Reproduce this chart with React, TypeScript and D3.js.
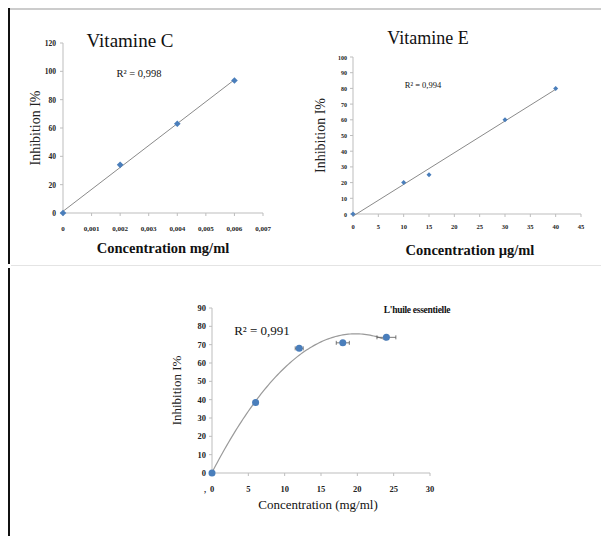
import React from "react";
import * as d3 from "d3";

// Vitamine C
const vcConc = [0, 0.002, 0.004, 0.006];
const vcInhib = [0, 34, 63, 93.5];
const vcXTicks = [0, 0.001, 0.002, 0.003, 0.004, 0.005, 0.006, 0.007];
const vcYTicks = [0, 20, 40, 60, 80, 100, 120];

// Vitamine E
const veConc = [0, 10, 15, 30, 40];
const veInhib = [0, 20, 25, 60, 80];
const veXTicks = [0, 5, 10, 15, 20, 25, 30, 35, 40, 45];
const veYTicks = [0, 10, 20, 30, 40, 50, 60, 70, 80, 90, 100];

// L'huile essentielle
const heConc = [0, 6, 12, 18, 24];
const heInhib = [0, 38.5, 68, 71, 74];
const heErr = [0, 0.3, 0.55, 0.9, 1.3];
const heXTicks = [0, 5, 10, 15, 20, 25, 30];
const heYTicks = [0, 10, 20, 30, 40, 50, 60, 70, 80, 90];

const BLUE = "#4a7ebb";
const AXIS = "#bdbdbd";
const SERIF = "'Liberation Serif', 'Times New Roman', serif";

function linFit(xs: number[], ys: number[]) {
  const mx = d3.mean(xs)!;
  const my = d3.mean(ys)!;
  const sxy = d3.sum(xs, (x, i) => (x - mx) * (ys[i] - my));
  const sxx = d3.sum(xs, (x) => (x - mx) ** 2);
  const b = sxy / sxx;
  return { a: my - b * mx, b };
}

// least squares quadratic (normal equations, Cramer's rule)
function quadFit(xs: number[], ys: number[]) {
  const s = (p: number) => d3.sum(xs, (x) => x ** p);
  const t = (p: number) => d3.sum(xs, (x, i) => x ** p * ys[i]);
  const M = [
    [xs.length, s(1), s(2)],
    [s(1), s(2), s(3)],
    [s(2), s(3), s(4)],
  ];
  const r = [t(0), t(1), t(2)];
  const det = (m: number[][]) =>
    m[0][0] * (m[1][1] * m[2][2] - m[1][2] * m[2][1]) -
    m[0][1] * (m[1][0] * m[2][2] - m[1][2] * m[2][0]) +
    m[0][2] * (m[1][0] * m[2][1] - m[1][1] * m[2][0]);
  const D = det(M);
  const col = (k: number) => M.map((row, i) => row.map((v, j) => (j === k ? r[i] : v)));
  return [det(col(0)) / D, det(col(1)) / D, det(col(2)) / D];
}

const fmtComma = (v: number) => String(v).replace(".", ",");

export default function App() {
  // ---- Vitamine C scales
  const cx = d3.scaleLinear().domain([0, 0.007]).range([63, 263]);
  const cy = d3.scaleLinear().domain([0, 120]).range([213, 43]);
  const cFit = linFit(vcConc, vcInhib);
  const cLine = d3.line<number>().x((x) => cx(x)).y((x) => cy(cFit.a + cFit.b * x));

  // ---- Vitamine E scales
  const ex = d3.scaleLinear().domain([0, 45]).range([353, 581]);
  const ey = d3.scaleLinear().domain([0, 100]).range([214, 57]);
  const eFit = linFit(veConc, veInhib);
  const eLine = d3.line<number>().x((x) => ex(x)).y((x) => ey(eFit.a + eFit.b * x));

  // ---- Huile essentielle
  const hx = d3.scaleLinear().domain([0, 30]).range([212, 430]);
  const hy = d3.scaleLinear().domain([0, 90]).range([473, 308]);
  const q = quadFit(heConc, heInhib);
  const curvePts = d3.range(0, 24.01, 0.25);
  const hLine = d3
    .line<number>()
    .x((x) => hx(x))
    .y((x) => hy(q[0] + q[1] * x + q[2] * x * x));

  const diamond = d3.symbol().type((d3 as any).symbolDiamond2 || d3.symbolDiamond);

  return (
    <svg
      width={601}
      height={536}
      style={{ position: "absolute", left: 0, top: 0, background: "#fff" }}
      fontFamily={SERIF}
    >
      {/* frame */}
      <line x1={9} y1={9} x2={601} y2={9} stroke="#999" strokeWidth={1} />
      <line x1={9} y1={8} x2={9} y2={264} stroke="#111" strokeWidth={2} />
      <line x1={9} y1={268} x2={9} y2={536} stroke="#111" strokeWidth={2} />
      <line x1={11} y1={265.5} x2={601} y2={265.5} stroke="#e4e4e4" strokeWidth={1} />

      {/* ===== Vitamine C ===== */}
      <g>
        <line x1={cx(0)} x2={cx(0)} y1={cy(0)} y2={cy(120)} stroke={AXIS} />
        <line x1={cx(0)} x2={cx(0.007)} y1={cy(0)} y2={cy(0)} stroke={AXIS} />
        {vcYTicks.map((t) => (
          <g key={t}>
            <line x1={cx(0) - 3} x2={cx(0)} y1={cy(t)} y2={cy(t)} stroke={AXIS} />
            <text x={cx(0) - 7} y={cy(t) + 3} fontSize={7.5} fontWeight="bold" textAnchor="end" fill="#222">
              {t}
            </text>
          </g>
        ))}
        {vcXTicks.map((t) => (
          <g key={t}>
            <line x1={cx(t)} x2={cx(t)} y1={cy(0)} y2={cy(0) + 3} stroke={AXIS} />
            <text x={cx(t)} y={cy(0) + 18} fontSize={7} fontWeight="bold" textAnchor="middle" fill="#222">
              {fmtComma(t)}
            </text>
          </g>
        ))}
        <path d={cLine([0, 0.006]) || ""} stroke="#8a8a8a" strokeWidth={1} fill="none" />
        {vcConc.map((x, i) => (
          <path
            key={i}
            d={diamond.size(28)() || ""}
            transform={`translate(${cx(x)},${cy(vcInhib[i])})`}
            fill={BLUE}
          />
        ))}
        <text x={130} y={47} fontSize={19} textAnchor="middle" fill="#111">
          Vitamine C
        </text>
        <text x={139} y={77} fontSize={10.5} textAnchor="middle" fill="#111">
          R² = 0,998
        </text>
        <text
          transform={`translate(40,${(cy(0) + cy(120)) / 2}) rotate(-90)`}
          fontSize={14}
          textAnchor="middle"
          fill="#222"
        >
          Inhibition I%
        </text>
        <text x={cx(0.0035)} y={253} fontSize={14.5} fontWeight="bold" textAnchor="middle" fill="#111">
          Concentration mg/ml
        </text>
      </g>

      {/* ===== Vitamine E ===== */}
      <g>
        <line x1={ex(0)} x2={ex(0)} y1={ey(0)} y2={ey(100)} stroke={AXIS} />
        <line x1={ex(0)} x2={ex(45)} y1={ey(0)} y2={ey(0)} stroke={AXIS} />
        {veYTicks.map((t) => (
          <g key={t}>
            <line x1={ex(0) - 3} x2={ex(0)} y1={ey(t)} y2={ey(t)} stroke={AXIS} />
            <text x={ex(0) - 6} y={ey(t) + 2.5} fontSize={6} fontWeight="bold" textAnchor="end" fill="#222">
              {t}
            </text>
          </g>
        ))}
        {veXTicks.map((t) => (
          <g key={t}>
            <line x1={ex(t)} x2={ex(t)} y1={ey(0)} y2={ey(0) + 3} stroke={AXIS} />
            <text x={ex(t)} y={ey(0) + 15} fontSize={6.5} fontWeight="bold" textAnchor="middle" fill="#222">
              {t}
            </text>
          </g>
        ))}
        <path d={eLine([0, 40]) || ""} stroke="#8a8a8a" strokeWidth={1} fill="none" />
        {veConc.map((x, i) => (
          <path
            key={i}
            d={diamond.size(16)() || ""}
            transform={`translate(${ex(x)},${ey(veInhib[i])})`}
            fill={BLUE}
          />
        ))}
        <text x={428} y={44} fontSize={18} textAnchor="middle" fill="#111">
          Vitamine E
        </text>
        <text x={423} y={88} fontSize={8.5} textAnchor="middle" fill="#111">
          R² = 0,994
        </text>
        <text
          transform={`translate(325,${(ey(0) + ey(100)) / 2}) rotate(-90)`}
          fontSize={14}
          textAnchor="middle"
          fill="#222"
        >
          Inhibition I%
        </text>
        <text x={470} y={255} fontSize={14.5} fontWeight="bold" textAnchor="middle" fill="#111">
          Concentration µg/ml
        </text>
      </g>

      {/* ===== L'huile essentielle ===== */}
      <g>
        <line x1={hx(0)} x2={hx(0)} y1={hy(0)} y2={hy(90)} stroke={AXIS} />
        <line x1={hx(0)} x2={hx(30)} y1={hy(0)} y2={hy(0)} stroke={AXIS} />
        {heYTicks.map((t) => (
          <g key={t}>
            <line x1={hx(0) - 3} x2={hx(0)} y1={hy(t)} y2={hy(t)} stroke={AXIS} />
            <text x={hx(0) - 6} y={hy(t) + 3} fontSize={8.5} fontWeight="bold" textAnchor="end" fill="#222">
              {t}
            </text>
          </g>
        ))}
        {heXTicks.map((t) => (
          <g key={t}>
            <line x1={hx(t)} x2={hx(t)} y1={hy(0)} y2={hy(0) + 3} stroke={AXIS} />
            <text x={hx(t)} y={hy(0) + 19} fontSize={8.5} fontWeight="bold" textAnchor="middle" fill="#222">
              {t}
            </text>
          </g>
        ))}
        <text x={hx(0) - 7} y={hy(0) + 19} fontSize={8.5} fontWeight="bold" textAnchor="middle" fill="#222">
          ,
        </text>
        <path d={hLine(curvePts) || ""} stroke="#9a9a9a" strokeWidth={1.2} fill="none" />
        {heConc.map((x, i) =>
          heErr[i] > 0 ? (
            <g key={"e" + i} stroke="#555" strokeWidth={0.8}>
              <line x1={hx(x - heErr[i])} x2={hx(x + heErr[i])} y1={hy(heInhib[i])} y2={hy(heInhib[i])} />
              <line x1={hx(x - heErr[i])} x2={hx(x - heErr[i])} y1={hy(heInhib[i]) - 2} y2={hy(heInhib[i]) + 2} />
              <line x1={hx(x + heErr[i])} x2={hx(x + heErr[i])} y1={hy(heInhib[i]) - 2} y2={hy(heInhib[i]) + 2} />
            </g>
          ) : null
        )}
        {heConc.map((x, i) => (
          <circle key={i} cx={hx(x)} cy={hy(heInhib[i])} r={3.5} fill={BLUE} />
        ))}
        <text x={417} y={313} fontSize={9.5} fontWeight="bold" textAnchor="middle" fill="#111" letterSpacing={-0.3}>
          L'huile essentielle
        </text>
        <text x={262} y={335} fontSize={13} textAnchor="middle" fill="#111">
          R² = 0,991
        </text>
        <text
          transform={`translate(181,${(hy(0) + hy(90)) / 2}) rotate(-90)`}
          fontSize={13}
          textAnchor="middle"
          fill="#222"
        >
          Inhibition I%
        </text>
        <text x={318} y={509} fontSize={13} textAnchor="middle" fill="#111">
          Concentration (mg/ml)
        </text>
      </g>
    </svg>
  );
}
